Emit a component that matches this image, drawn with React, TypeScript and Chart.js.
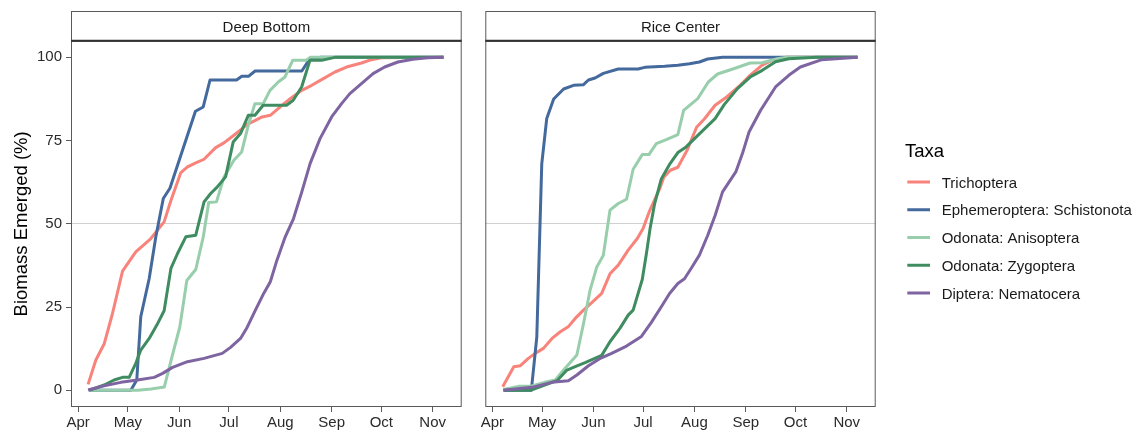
import React, { useEffect, useRef } from "react";
import { Chart, registerables } from "chart.js";

Chart.register(...registerables);

type Pt = [number, number];

// x values are days counted from 1 April
const monthDays = [0, 30, 61, 91, 122, 153, 183, 214];
const monthLabels = ["Apr", "May", "Jun", "Jul", "Aug", "Sep", "Oct", "Nov"];
const pctTicks = [0, 25, 50, 75, 100];

const sites = ["Deep Bottom", "Rice Center"];
const taxa = [
  "Trichoptera",
  "Ephemeroptera: Schistonota",
  "Odonata: Anisoptera",
  "Odonata: Zygoptera",
  "Diptera: Nematocera",
];
const taxaColors = ["#F8837A", "#44699C", "#98CEAB", "#3F8C60", "#7E64A0"];

// Cumulative biomass emerged (%) – Deep Bottom
const deepTrichoptera: Pt[] = [
  [6, 1.8], [10.7, 9.1], [15.7, 13.9], [20.7, 23], [26.8, 35.8], [34.8, 41.6],
  [43.9, 45.6], [51.9, 50.6], [56, 57], [62, 65.4], [66, 67.1], [71, 68.3],
  [76, 69.4], [83, 72.9], [88, 74.3], [94, 76.6], [99, 78.6], [102, 79.9],
  [107, 81.1], [111, 82.1], [116, 82.6], [123, 85.6], [128, 87.6], [135, 90.1],
  [141, 91.6], [148, 93.6], [155, 95.6], [162, 97.1], [171, 98.3], [177, 99.3],
  [183, 99.9], [220.5, 100],
];
const deepEphemeroptera: Pt[] = [
  [7, 0], [31.8, 0], [35.4, 3.1], [37.8, 22.1], [42.9, 33.6], [46.9, 46.1],
  [51.4, 57.6], [55.4, 60.7], [70.8, 83.8], [75.5, 85.1], [79.6, 93.2],
  [95.6, 93.2], [98.8, 94.3], [102.8, 94.3], [106.8, 95.9], [135, 95.9],
  [139.3, 99.2], [146, 100], [220.5, 100],
];
const deepAnisoptera: Pt[] = [
  [6.6, 0], [36, 0], [44, 0.4], [52, 1], [56.4, 9.6], [61.4, 19.1], [65.6, 33],
  [71, 36.3], [75.5, 46], [78.8, 56.4], [83.5, 56.6], [88, 64], [94, 69.1],
  [98.7, 71.6], [102.7, 79.6], [106.7, 86.1], [111.7, 86.1], [115.8, 90.1],
  [120.8, 92.6], [124.8, 94.1], [129.5, 99.1], [137.5, 99.1], [140, 100],
  [220.5, 100],
];
const deepZygoptera: Pt[] = [
  [6.6, 0], [15.7, 1.6], [21.7, 3.1], [26.8, 3.9], [30.8, 3.9], [34.8, 8.1],
  [37.8, 12.1], [42.9, 15.6], [47.5, 19.6], [51.9, 23.9], [56, 36.6], [60, 41.1],
  [65, 46.1], [71, 46.6], [76, 56.6], [80, 59.1], [84, 61.1], [89, 64.1],
  [93.6, 74.6], [98, 77.1], [102.7, 82.6], [106.7, 82.6], [111.7, 85.6],
  [125.8, 85.6], [129.8, 87.1], [134.9, 91.1], [139.9, 99.1], [146.9, 99.1],
  [155, 100], [220.5, 100],
];
const deepNematocera: Pt[] = [
  [6, 0.1], [15.7, 1.4], [25.8, 2.4], [35.8, 3.1], [45.9, 3.9], [51, 5.1],
  [57, 6.9], [66, 8.6], [76, 9.6], [87, 11.1], [92, 12.9], [98, 15.6],
  [102, 18.9], [107, 24.1], [112, 29.1], [116, 32.6], [120, 39.1], [125, 46.1],
  [130, 51.6], [135, 59.6], [140, 68.1], [146, 75.6], [153, 82.1], [159, 86.1],
  [164, 89.1], [171, 92.1], [178, 95.1], [185, 97.1], [193, 98.6], [202, 99.4],
  [211, 99.9], [220.5, 100],
];

// Cumulative biomass emerged (%) – Rice Center
const riceTrichoptera: Pt[] = [
  [6.2, 1.1], [12.9, 7.1], [16.9, 7.4], [21.7, 9.6], [25.8, 11.1], [30.8, 12.6],
  [36, 15.6], [41, 17.6], [46, 19.2], [50, 21.6], [55, 24.1], [60.5, 26.6],
  [66, 29.1], [71, 35], [76, 37.6], [82, 42.1], [87.5, 45.6], [91, 48.6],
  [95, 54], [101, 60.5], [103.5, 64], [107.5, 66.1], [112, 67], [117.5, 72],
  [123.3, 79], [128, 81.5], [134.5, 85.6], [141.5, 88.1], [149.6, 91.6],
  [155.6, 94.6], [162.7, 97.6], [169.7, 99.3], [177, 100], [220.5, 100],
];
const riceEphemeroptera: Pt[] = [
  [7, 0], [23.5, 0], [26.8, 16], [29.8, 68], [32.8, 81.6], [37, 87.5],
  [43, 90.5], [49, 91.6], [55, 91.8], [58, 93.2], [62, 93.8], [67, 95.2],
  [76, 96.5], [88, 96.5], [92, 97], [104, 97.3], [112, 97.6], [119, 98.1],
  [125, 98.6], [130, 99.5], [139, 100], [220.5, 100],
];
const riceAnisoptera: Pt[] = [
  [6.6, 0.3], [15.7, 1.2], [22.8, 1.2], [33, 2.6], [38, 3.1], [43, 6.1],
  [51, 10.6], [55, 20], [59, 30.1], [63, 37], [67, 40.6], [71, 54.1], [76, 56.1],
  [81, 57.4], [85, 66.4], [90.5, 70.8], [94.5, 70.8], [99, 74.1], [105, 75.3],
  [112, 76.8], [115.5, 84.1], [124, 87.6], [130.4, 92.6], [136, 95], [147, 96.8],
  [155.6, 98.3], [163, 98.4], [172, 99.6], [178, 100], [220.5, 100],
];
const riceZygoptera: Pt[] = [
  [6.6, 0], [23, 0], [34, 2], [39, 2.9], [45, 6.1], [50, 7.1], [56, 8.3],
  [66, 10.5], [71, 14.6], [77, 18.6], [82, 22.6], [85, 24.1], [90.5, 33.3],
  [93, 41], [95.2, 48.5], [98, 56.1], [102, 63.5], [107.3, 68.1], [112, 71.4],
  [117, 73.1], [125, 77], [134.5, 81.6], [140, 85.8], [148, 90.6], [156, 94.2],
  [163, 96.1], [171, 98.7], [179, 99.6], [196, 100], [220.5, 100],
];
const riceNematocera: Pt[] = [
  [6.6, 0], [23.8, 0.9], [35.8, 2.4], [45.9, 2.9], [51, 4.6], [58, 7.4],
  [65.5, 9.7], [72, 11.1], [81, 13.3], [90, 16.2], [96, 20.4], [102.5, 25.5],
  [107, 29.1], [112, 32.1], [116, 33.5], [120, 36.6], [125, 40.6], [130, 46.5],
  [134.5, 52.5], [139, 59.6], [147, 65.6], [151, 71.1], [155, 77.6], [162, 84.1],
  [171, 91.1], [179, 94.6], [186, 97.1], [199, 99.3], [220.5, 100],
];

const deepSeries = [deepTrichoptera, deepEphemeroptera, deepAnisoptera, deepZygoptera, deepNematocera];
const riceSeries = [riceTrichoptera, riceEphemeroptera, riceAnisoptera, riceZygoptera, riceNematocera];

const FONT = '"Liberation Sans", Arial, Helvetica, sans-serif';
const HEIGHT = 435;
const STRIP_TOP = 11;
const AREA_TOP = 40.7;
const AREA_BOTTOM = 407;
const X_MIN = -4.3;
const X_MAX = 231.5;
const FRAME = "#5a5a5a";

interface PanelSpec {
  site: string;
  series: Pt[][];
  canvasLeft: number;
  canvasWidth: number;
  areaLeft: number;
  areaRight: number;
  showY: boolean;
  showKey: boolean;
}

// Facet strip, panel frame and (optionally) the taxa key
function decorations(spec: PanelSpec) {
  return {
    id: "facetDecor",
    afterDraw(chart: Chart) {
      const { ctx, chartArea: a } = chart;
      ctx.save();
      // panel frame
      ctx.strokeStyle = FRAME;
      ctx.lineWidth = 1;
      ctx.strokeRect(a.left + 0.5, a.top + 0.5, a.right - a.left - 1, a.bottom - a.top - 1);
      // strip box
      ctx.fillStyle = "#ffffff";
      ctx.fillRect(a.left, STRIP_TOP, a.right - a.left, a.top - STRIP_TOP);
      ctx.strokeRect(a.left + 0.5, STRIP_TOP + 0.5, a.right - a.left - 1, a.top - STRIP_TOP);
      ctx.strokeStyle = "#333333";
      ctx.lineWidth = 2;
      ctx.beginPath();
      ctx.moveTo(a.left, a.top);
      ctx.lineTo(a.right, a.top);
      ctx.stroke();
      ctx.fillStyle = "#1a1a1a";
      ctx.font = `15px ${FONT}`;
      ctx.textAlign = "center";
      ctx.textBaseline = "alphabetic";
      ctx.fillText(spec.site, (a.left + a.right) / 2, 31.5);

      if (spec.showKey) {
        const ox = -spec.canvasLeft;
        ctx.textAlign = "left";
        ctx.fillStyle = "#000000";
        ctx.font = `18.5px ${FONT}`;
        ctx.fillText("Taxa", 905 + ox, 157.3);
        ctx.font = `15px ${FONT}`;
        chart.data.datasets.forEach((ds: any, i: number) => {
          const y = 182 + i * 27.75;
          ctx.strokeStyle = ds.borderColor;
          ctx.lineWidth = 3;
          ctx.beginPath();
          ctx.moveTo(907.3 + ox, y);
          ctx.lineTo(930 + ox, y);
          ctx.stroke();
          ctx.fillStyle = "#1a1a1a";
          ctx.fillText(ds.label, 941.7 + ox, y + 5.5);
        });
      }
      ctx.restore();
    },
  };
}

function makePanel(canvas: HTMLCanvasElement, spec: PanelSpec) {
  return new Chart(canvas, {
    type: "line",
    data: {
      datasets: taxa.map((name, i) => ({
        label: name,
        data: spec.series[i].map(([x, y]) => ({ x, y })),
        borderColor: taxaColors[i],
        backgroundColor: taxaColors[i],
        borderWidth: 3,
        pointRadius: 0,
        pointHoverRadius: 0,
        tension: 0,
        fill: false,
        borderCapStyle: "butt",
        borderJoinStyle: "round",
        order: taxa.length - i,
      })),
    },
    options: {
      responsive: false,
      animation: false,
      events: [],
      layout: {
        padding: { left: 0, right: spec.canvasWidth - spec.areaRight, top: AREA_TOP, bottom: 0 },
      },
      plugins: {
        legend: { display: false },
        tooltip: { enabled: false },
        title: { display: false },
      },
      scales: {
        x: {
          type: "linear",
          min: X_MIN,
          max: X_MAX,
          afterBuildTicks: (s: any) => {
            s.ticks = monthDays.map((v) => ({ value: v }));
          },
          afterFit: (s: any) => {
            s.height = HEIGHT - AREA_BOTTOM;
          },
          ticks: {
            callback: (_v: any, i: number) => monthLabels[i],
            color: "#2b2b2b",
            font: { family: FONT, size: 15 },
            padding: 2,
            autoSkip: false,
            maxRotation: 0,
          },
          grid: {
            drawOnChartArea: false,
            color: FRAME,
            tickColor: FRAME,
            tickLength: 5,
            lineWidth: 1,
          },
          border: { display: false },
        },
        y: {
          type: "linear",
          min: -5,
          max: 105,
          afterBuildTicks: (s: any) => {
            s.ticks = pctTicks.map((v) => ({ value: v }));
          },
          afterFit: (s: any) => {
            s.width = spec.areaLeft;
          },
          ticks: {
            display: spec.showY,
            color: "#2b2b2b",
            font: { family: FONT, size: 15 },
            padding: 4,
          },
          grid: {
            drawTicks: spec.showY,
            tickLength: 5,
            tickColor: FRAME,
            lineWidth: 1,
            color: (c: any) => (c.tick && c.tick.value === 50 ? "#d0d0d0" : "rgba(0,0,0,0)"),
          },
          border: { display: false },
          title: {
            display: spec.showY,
            text: "Biomass Emerged (%)",
            color: "#000000",
            font: { family: FONT, size: 18.5 },
            padding: { top: 11, bottom: 0 },
          },
        },
      },
    } as any,
    plugins: [decorations(spec)],
  });
}

export default function App() {
  const leftRef = useRef<HTMLCanvasElement>(null);
  const rightRef = useRef<HTMLCanvasElement>(null);

  useEffect(() => {
    const charts = [
      makePanel(leftRef.current!, {
        site: sites[0],
        series: deepSeries,
        canvasLeft: 0,
        canvasWidth: 470,
        areaLeft: 71,
        areaRight: 461.7,
        showY: true,
        showKey: false,
      }),
      makePanel(rightRef.current!, {
        site: sites[1],
        series: riceSeries,
        canvasLeft: 470,
        canvasWidth: 674,
        areaLeft: 15.3,
        areaRight: 405.7,
        showY: false,
        showKey: true,
      }),
    ];
    return () => charts.forEach((c) => c.destroy());
  }, []);

  return (
    <div
      style={{
        position: "absolute",
        left: 0,
        top: 0,
        width: 1144,
        height: HEIGHT,
        background: "#ffffff",
        overflow: "hidden",
      }}
    >
      <canvas ref={leftRef} width={470} height={HEIGHT} style={{ position: "absolute", left: 0, top: 0 }} />
      <canvas ref={rightRef} width={674} height={HEIGHT} style={{ position: "absolute", left: 470, top: 0 }} />
    </div>
  );
}
